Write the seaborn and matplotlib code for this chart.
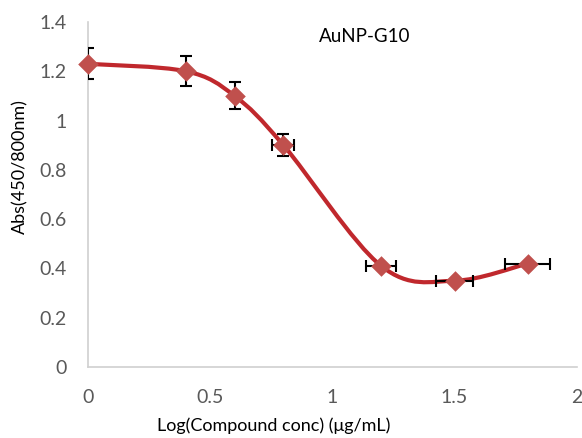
import numpy as np
import pandas as pd
import matplotlib
matplotlib.use("Agg")
import matplotlib.pyplot as plt
from matplotlib.path import Path
from matplotlib.patches import PathPatch
import seaborn as sns

# data
log_conc = [0.0, 0.4, 0.6, 0.8, 1.2, 1.5, 1.8]
absorb = [1.23, 1.20, 1.10, 0.90, 0.41, 0.35, 0.42]
y_err = [0.063, 0.061, 0.055, 0.045, 0.0, 0.0, 0.0]
x_err = [0.0, 0.0, 0.0, 0.045, 0.061, 0.076, 0.092]
x_ticks = [0, 0.5, 1, 1.5, 2]
x_tick_labels = ["0", "0.5", "1", "1.5", "2"]
y_ticks = [0, 0.2, 0.4, 0.6, 0.8, 1.0, 1.2, 1.4]
y_tick_labels = ["0", "0.2", "0.4", "0.6", "0.8", "1", "1.2", "1.4"]

sns.set_style("white")
plt.rcParams['font.family'] = ['Lato', 'DejaVu Sans']

df = pd.DataFrame({"x": log_conc, "y": absorb})

fig = plt.figure(figsize=(5.82, 4.38), dpi=100)
ax = fig.add_axes([0.151, 0.162, 0.840, 0.788])

# smoothed line (Excel-style Bezier smoothing through the data points)
pts = np.column_stack([log_conc, absorb])
n = len(pts)
verts = [tuple(pts[0])]
codes = [Path.MOVETO]
for i in range(n - 1):
    p_prev = pts[i - 1] if i > 0 else pts[i]
    p0 = pts[i]
    p1 = pts[i + 1]
    p_next = pts[i + 2] if i + 2 < n else pts[i + 1]
    c1 = p0 + (p1 - p_prev) / 6.0
    c2 = p1 - (p_next - p0) / 6.0
    verts += [tuple(c1), tuple(c2), tuple(p1)]
    codes += [Path.CURVE4] * 3
ax.add_patch(PathPatch(Path(verts, codes), facecolor="none",
                       edgecolor="#C0282D", lw=3.0, zorder=2))

# error bars
eb = ax.errorbar(df["x"], df["y"], yerr=y_err, xerr=x_err, fmt="none",
                 ecolor="black", elinewidth=1.5, capsize=4, capthick=1.5, zorder=3)

# markers
sns.scatterplot(data=df, x="x", y="y", marker="D", s=110, color="#C0504D",
                edgecolor="#C0504D", linewidth=0, ax=ax, zorder=4, clip_on=False)

ax.set_xlim(0, 2)
ax.set_ylim(0, 1.4)
ax.set_xticks(x_ticks)
ax.set_xticklabels(x_tick_labels)
ax.set_yticks(y_ticks)
ax.set_yticklabels(y_tick_labels)
ax.tick_params(axis="both", length=0, labelsize=14, colors="#595959")
ax.tick_params(axis="x", pad=16)
ax.tick_params(axis="y", pad=15)

for s in ["top", "right"]:
    ax.spines[s].set_visible(False)
for s in ["left", "bottom"]:
    ax.spines[s].set_color("#D0D0D0")
    ax.spines[s].set_linewidth(1.2)
ax.grid(False)

ax.set_xlabel("Log(Compound conc) (μg/mL)", fontsize=13, color="black")
ax.set_ylabel("Abs(450/800nm)", fontsize=13, color="black")
ax.xaxis.set_label_coords(0.38, -0.146)
ax.yaxis.set_label_coords(-0.122, 0.58)

ax.text(0.566, 0.959, "AuNP-G10", transform=ax.transAxes, fontsize=13.5,
        ha="center", va="center", color="black")

fig.savefig("out.png", dpi=100)
